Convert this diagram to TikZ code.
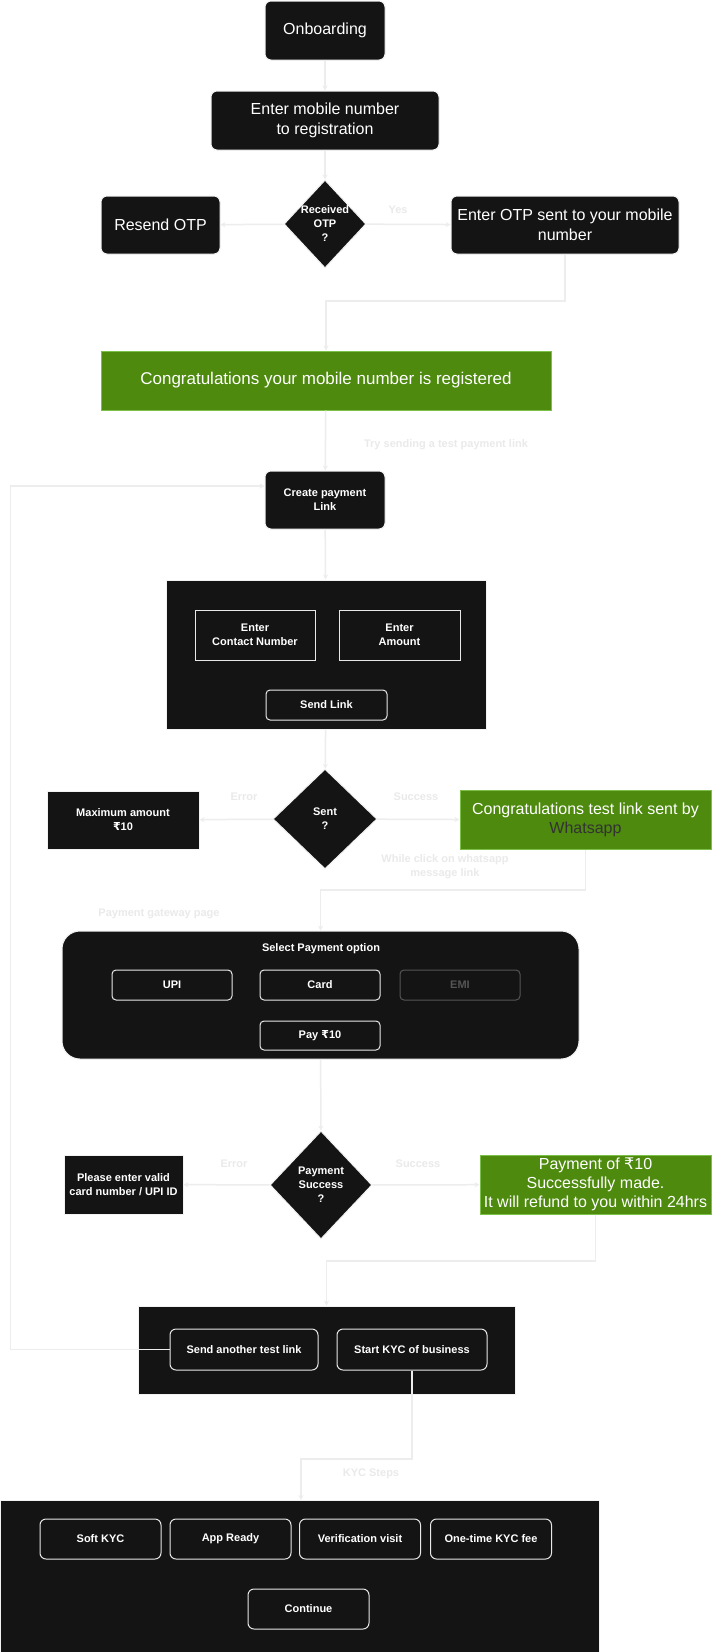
\documentclass[tikz,border=0pt]{standalone}
\usepackage{fontspec}
\setmainfont{Liberation Sans}
\newfontfamily\dvs{DejaVu Sans}
\usetikzlibrary{shapes.geometric,arrows.meta}
\definecolor{blk}{HTML}{141414}
\definecolor{edgec}{HTML}{F2F2F2}
\definecolor{grn}{HTML}{4D8A0E}
\definecolor{grnb}{HTML}{7CC04A}
\definecolor{lnc}{HTML}{EDEDED}
\definecolor{lblc}{HTML}{EAEAEA}
\definecolor{btnc}{HTML}{E8E8E8}
\definecolor{emic}{HTML}{555555}
\newcommand\fbig{\fontsize{16}{19.5}\selectfont}
\newcommand\fsm{\fontsize{11}{14}\selectfont\bfseries}
\newcommand\rup{{\dvs ₹}}
\tikzset{
  base/.style={inner sep=0pt, align=center, text=white},
  bbox/.style={base, fill=blk, draw=edgec, line width=1pt, rounded corners=6pt, font=\fbig},
  sbox/.style={base, fill=blk, draw=edgec, line width=1pt, font=\fsm},
  gbox/.style={base, fill=grn, draw=grnb, line width=1pt, font=\fbig},
  panel/.style={base, fill=blk, draw=edgec, line width=1pt},
  btn/.style={base, draw=btnc, line width=1pt, rounded corners=4pt, font=\fsm},
  sqbtn/.style={base, draw=btnc, line width=1pt, font=\fsm},
  dia/.style={base, diamond, fill=blk, draw=edgec, line width=1pt},
  dtext/.style={base, font=\fsm},
  lbl/.style={base, text=lblc, font=\fsm},
  arr/.style={draw=lnc, line width=1.5pt, -{Stealth[length=5pt,width=5pt]}},
  ln/.style={draw=lnc, line width=1.5pt}
}
\begin{document}
\begin{tikzpicture}[x=1pt,y=-1pt]
\fill[white] (0,0) rectangle (712,1652);
\useasboundingbox (0,0) rectangle (712,1652);

% top section
\node[bbox, minimum width=120pt, minimum height=59pt] (onb) at (325,30.5) {Onboarding};
\node[bbox, minimum width=228pt, minimum height=59pt] (mob) at (325,120.5) {Enter mobile number\\to registration};
\node[dia, minimum width=82pt, minimum height=88pt] (d1) at (325,224) {};
\node[dtext] at (d1) {Received\\OTP\\?};
\node[bbox, minimum width=119pt, minimum height=58pt] (res) at (160.5,225) {Resend OTP};
\node[bbox, minimum width=228pt, minimum height=58pt] (otp) at (565,225) {Enter OTP sent to your mobile\\number};
\node[gbox, font=\fontsize{17}{20}\selectfont, minimum width=450pt, minimum height=59pt] (g1) at (326,380.5) {Congratulations your mobile number is registered};
\node[bbox, font=\fsm, minimum width=120pt, minimum height=58pt] (cre) at (325,500) {Create payment\\Link};

\draw[arr] (onb) -- (mob);
\draw[arr] (mob) -- (d1);
\draw[arr] (d1) -- (res);
\draw[arr] (d1) -- (otp);
\node[lbl] at (398,210) {Yes};
\draw[arr] (otp.south) -- (565,301) -| (g1.north);
\draw[arr] (g1) -- (cre);
\node[lbl] at (446,445) {Try sending a test payment link};

% panel 1
\node[panel, minimum width=320pt, minimum height=149pt] (p1) at (326,654.5) {};
\node[sqbtn, minimum width=120pt, minimum height=50pt] (cn) at (255,635) {Enter\\Contact Number};
\node[sqbtn, minimum width=121pt, minimum height=50pt] (am) at (399.5,635) {Enter\\Amount};
\node[btn, minimum width=121pt, minimum height=30pt] (sl) at (326.5,705) {Send Link};
\draw[arr] (cre) -- (p1);

% sent decision
\node[dia, minimum width=104pt, minimum height=100pt] (d2) at (325,819) {};
\node[dtext] at (d2) {Sent\\?};
\node[sbox, minimum width=152pt, minimum height=58pt] (max) at (123,820) {Maximum amount\\\rup10};
\node[gbox, minimum width=251pt, minimum height=59pt] (c2) at (585.5,820) {Congratulations test link sent by\\\textcolor[HTML]{333333}{Whatsapp}};
\draw[arr] (p1) -- (d2);
\draw[arr] (d2) -- (max);
\draw[arr] (d2) -- (c2);
\node[lbl] at (244,797) {Error};
\node[lbl] at (416,797) {Success};
\node[lbl] at (445,867) {While click on whatsapp\\message link};

% payment panel
\node[panel, rounded corners=18pt, minimum width=517pt, minimum height=128pt] (pp) at (320.5,995) {};
\node[dtext] (sel) at (321,949) {Select Payment option};
\node[btn, minimum width=120pt, minimum height=30pt] (upi) at (172,985) {UPI};
\node[btn, minimum width=120pt, minimum height=30pt] (card) at (320,985) {Card};
\node[btn, draw=emic, text=emic, minimum width=120pt, minimum height=30pt] (emi) at (460,985) {EMI};
\node[btn, minimum width=120pt, minimum height=29pt] (pay) at (320,1035.5) {Pay \rup10};
\draw[arr] (c2.south) -- (585.5,890) -| (pp.north);
\node[lbl] at (159,914) {Payment gateway page};

% payment decision
\node[dia, minimum width=102pt, minimum height=108pt] (d3) at (321,1185) {};
\node[dtext] at (d3) {Payment\\Success\\?};
\node[sbox, minimum width=119pt, minimum height=59pt] (ple) at (123.5,1184.5) {Please enter valid\\card number / UPI ID};
\node[gbox, font=\fontsize{16}{19}\selectfont, minimum width=231pt, minimum height=59pt] (pof) at (595.5,1184.5) {Payment of \rup10\\Successfully made.\\It will refund to you within 24hrs};
\draw[arr] (pp) -- (d3);
\draw[arr] (d3) -- (ple);
\draw[arr] (d3) -- (pof);
\node[lbl] at (234,1164) {Error};
\node[lbl] at (418,1164) {Success};

% next step panel
\node[panel, minimum width=377pt, minimum height=88pt] (ks) at (326.5,1350) {};
\node[btn, rounded corners=6pt, minimum width=148pt, minimum height=41pt] (sat) at (244,1349.5) {Send another test link};
\node[btn, rounded corners=6pt, minimum width=150pt, minimum height=41pt] (skyc) at (412,1349.5) {Start KYC of business};
\draw[arr] (pof.south) -- (595.5,1261) -| (ks.north);
\draw[arr] (sat.west) -- (10.5,1349.5) |- ([yshift=14pt]cre.west);

% KYC panel
\node[panel, minimum width=599pt, minimum height=152pt] (kp) at (299.5,1576) {};
\node[btn, rounded corners=6pt, minimum width=121pt, minimum height=40pt] (k1) at (100.5,1539) {Soft KYC};
\node[btn, rounded corners=6pt, minimum width=121pt, minimum height=40pt] (k2) at (230.5,1539) {App Ready};
\node[btn, rounded corners=6pt, minimum width=121pt, minimum height=40pt] (k3) at (360,1539) {Verification visit};
\node[btn, rounded corners=6pt, minimum width=121pt, minimum height=40pt] (k4) at (491,1539) {One-time KYC fee};
\node[btn, rounded corners=6pt, minimum width=121pt, minimum height=40pt] (cont) at (308.5,1609) {Continue};
\coordinate (kin) at (301,1500);
\draw[arr] (skyc.south) -- (412,1459) -| (kin);
\node[lbl] at (371,1474) {KYC Steps};
\end{tikzpicture}
\end{document}
